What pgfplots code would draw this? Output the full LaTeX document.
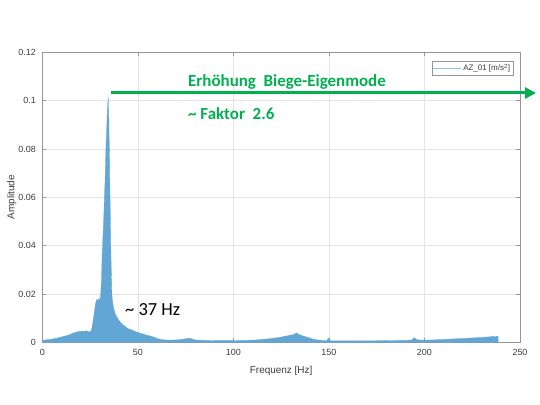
\documentclass[border=0pt]{standalone}
\usepackage{fontspec}
\setmainfont{Liberation Sans}
\newfontfamily\carlito{Carlito}
\usepackage{pgfplots}
\pgfplotsset{compat=1.18}
\usetikzlibrary{arrows.meta}
\definecolor{spec}{RGB}{98,166,214}
\definecolor{myg}{RGB}{0,176,80}
\definecolor{axgray}{RGB}{150,150,150}
\definecolor{txtgray}{RGB}{60,60,60}
\definecolor{gridgray}{RGB}{228,228,228}
\pgfplotstableread{
f a
0 0.0008
1 0.0009
2 0.0010
3 0.0011
4 0.0012
5 0.0013
6 0.0015
7 0.0016
8 0.0018
9 0.0020
10 0.0022
11 0.0024
12 0.0026
13 0.0028
14 0.0031
15 0.0034
16 0.0037
17 0.0040
18 0.0042
19 0.0045
20 0.0044
21 0.0047
22 0.0045
23 0.0048
24 0.0044
25 0.0043
25.5 0.0047
26 0.0060
26.5 0.0085
27 0.0110
27.5 0.0140
28 0.0165
28.5 0.0178
29 0.0172
29.5 0.0181
30 0.0176
30.5 0.0190
31 0.0260
31.3 0.0360
31.7 0.0430
32.1 0.0500
32.5 0.0600
32.9 0.0680
33.3 0.0800
33.7 0.0880
34.0 0.0950
34.3 0.0990
34.5 0.1014
34.7 0.0960
34.9 0.0880
35.1 0.0800
35.3 0.0680
35.5 0.0580
35.8 0.0410
36.1 0.0300
36.4 0.0200
36.8 0.0165
37.3 0.0142
38 0.0122
38.5 0.0112
39 0.0106
40 0.0092
41 0.0082
42 0.0074
43 0.0068
44 0.0060
45 0.0056
46 0.0053
47 0.0051
48 0.0047
49 0.0043
50 0.0041
51 0.0038
52 0.0036
53 0.0034
54 0.0031
55 0.0029
56 0.0027
57 0.0025
58 0.0022
59 0.0019
60 0.0016
61 0.0014
62 0.0012
63 0.0011
64 0.0010
66 0.0009
68 0.0009
70 0.0010
72 0.0011
74 0.0013
75 0.0015
76 0.0016
77 0.0017
78 0.0015
79 0.0012
80 0.0010
82 0.0009
85 0.0008
90 0.0007
95 0.0007
100 0.0007
105 0.0008
110 0.0009
114 0.0011
118 0.0014
121 0.0017
124 0.0020
127 0.0025
129 0.0028
131 0.0031
132 0.0034
133 0.0039
134 0.0034
135 0.0030
137 0.0025
139 0.0020
141 0.0015
143 0.0011
145 0.0009
147 0.0007
149 0.0006
149.6 0.0018
150.2 0.0007
152 0.0006
160 0.0006
170 0.0006
180 0.0007
190 0.0008
193 0.0009
194 0.0014
194.7 0.0019
195.5 0.0013
197 0.0009
200 0.0009
205 0.0010
210 0.0012
215 0.0014
220 0.0016
225 0.0018
230 0.0020
233 0.0022
235 0.0023
236 0.0025
237 0.0022
238 0.0026
238.5 0.0025
238.6 0
}\spectrum
\begin{document}
\begin{tikzpicture}
\path[use as bounding box] (0,0) rectangle (540bp,405bp);
\begin{axis}[
  at={(42.3bp,62.7bp)}, anchor=south west,
  width=477.7bp, height=290bp, scale only axis,
  xmin=0, xmax=250, ymin=0, ymax=0.12,
  xtick={0,50,...,250}, xticklabels={0,50,100,150,200,250},
  ytick={0,0.02,0.04,0.06,0.08,0.1,0.12},
  yticklabels={0,0.02,0.04,0.06,0.08,0.1,0.12},
  tick align=inside, tick pos=both,
  major tick length=4bp,
  grid=major, grid style={gridgray, line width=0.5bp},
  axis line style={axgray, line width=0.6bp},
  tick style={axgray, line width=0.6bp},
  /pgf/number format/assume math mode=true,
  ticklabel style={font=\fontsize{9}{10}\selectfont, text=txtgray},
  xticklabel style={yshift=-3.5bp},
  yticklabel style={xshift=-3bp},
  xlabel={Frequenz [Hz]}, ylabel={Amplitude},
  label style={font=\fontsize{10}{12}\selectfont, text=txtgray},
  xlabel style={at={(axis description cs:0.5,0)}, anchor=center, yshift=-28.7bp},
  ylabel style={at={(axis description cs:0,0.5)}, anchor=center, yshift=30.6bp},
  legend style={at={(0.986,0.971)}, anchor=north east, draw=axgray,
    line width=0.5bp, font=\fontsize{8}{9}\selectfont, text=txtgray,
    inner sep=1bp, nodes={inner sep=2bp}},
  legend image code/.code={\draw[#1] (0bp,0bp) -- (28bp,0bp);},
  clip=false,
]
\addplot[draw=spec, fill=spec, line width=0.3bp, forget plot] table[x=f,y=a] {\spectrum} \closedcycle;
\addlegendimage{spec!70, line width=0.4bp}
\addlegendentry{AZ\_01 [m/s\textsuperscript{2}]}
\end{axis}
\draw[myg, line width=3bp, -{Triangle[length=11bp,width=11bp]}] (111.4bp,312bp) -- (536bp,312bp);
\node[anchor=west, text=myg, font=\carlito\bfseries\fontsize{17}{19}\selectfont, inner sep=0] at (188bp,323bp) {Erhöhung\ \ Biege-Eigenmode};
\node[anchor=west, text=myg, font=\carlito\bfseries\fontsize{17}{19}\selectfont, inner sep=0] at (188bp,291bp) {\textasciitilde{} Faktor\ \ 2.6};
\node[anchor=west, font=\carlito\fontsize{18.5}{21}\selectfont, inner sep=0] at (125bp,95bp) {\textasciitilde{} 37 Hz};
\end{tikzpicture}
\end{document}
